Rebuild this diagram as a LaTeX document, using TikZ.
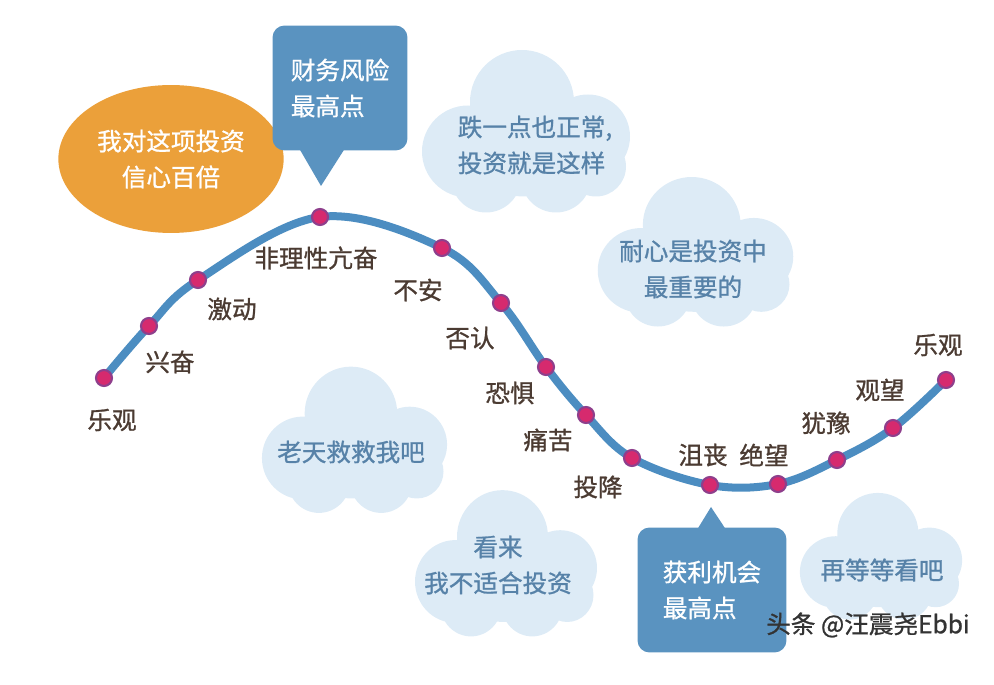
\documentclass[tikz,border=0pt]{standalone}
\usepackage{fontspec}
\setmainfont{Noto Sans CJK SC}[FakeBold=1]
\usetikzlibrary{shapes.geometric,calc}
\definecolor{curveblue}{HTML}{4C8DC1}
\definecolor{boxblue}{HTML}{5A93C0}
\definecolor{moodorange}{HTML}{EBA03A}
\definecolor{cloudfill}{HTML}{DDEBF6}
\definecolor{cloudtext}{HTML}{5782A8}
\definecolor{moodbrown}{HTML}{4B3B32}
\definecolor{dotpink}{HTML}{D62A6E}
\definecolor{dotrim}{HTML}{8E3F8C}
\begin{document}
\begin{tikzpicture}[x=0.02cm, y=-0.02cm, every node/.style={font=\fontsize{14}{20.5}\selectfont},
  moodtext/.style={text=moodbrown,inner sep=1pt},
  mooddot/.style={circle,fill=dotpink,draw=dotrim,line width=1.2pt,minimum size=0.32cm,inner sep=0pt},
  cloudnote/.style={text=cloudtext,align=center,inner sep=1pt},
  riskbox/.style={fill=boxblue,rounded corners=0.24cm,text=white,align=left,minimum height=2.5cm},
  cloudpuffs/.pic={\fill[cloudfill] (-4,-29.5) circle[radius=52] (62,5) circle[radius=42]
    (-58,20) circle[radius=46] (-40,46) circle[radius=35] (30,46) circle[radius=35]
    (70,35) circle[radius=30] (0,15) ellipse[x radius=75,y radius=50];}]
\useasboundingbox (0,0) rectangle (994,685);
% clouds
\pic at (526,131.5) {cloudpuffs};
\pic[xscale=0.94,yscale=0.92] at (695.5,252) {cloudpuffs};
\pic[xscale=0.89,yscale=0.9] at (354.5,440) {cloudpuffs};
\pic[xscale=0.875,yscale=0.9] at (506,563.5) {cloudpuffs};
\pic[xscale=0.78,yscale=0.78] at (881,556.5) {cloudpuffs};
\node[cloudnote,align=left] (c1) at (535,145) {跌一点也正常,\\投资就是这样};
\node[cloudnote] (c2) at (693,269) {耐心是投资中\\最重要的};
\node[cloudnote] (c3) at (351,452) {老天救救我吧};
\node[cloudnote] (c4) at (498,565) {看来\\我不适合投资};
\node[cloudnote] (c5) at (882,570) {再等等看吧};
% the curve
\coordinate (p1) at (104,378); \coordinate (p2) at (149,326); \coordinate (p3) at (198,280);
\coordinate (p4) at (320,217); \coordinate (p5) at (442,248); \coordinate (p6) at (501,303);
\coordinate (p7) at (546,367); \coordinate (p8) at (586,415); \coordinate (p9) at (632,458);
\coordinate (p10) at (710,485); \coordinate (p11) at (778,484); \coordinate (p12) at (837,460);
\coordinate (p13) at (893,428); \coordinate (p14) at (946,380);
\draw[curveblue,line width=0.16cm] plot[smooth,tension=0.6] coordinates {(p1) (p2) (p3) (p4) (p5) (p6) (p7) (p8) (p9) (p10) (p11) (p12) (p13) (p14)};
\foreach \i in {1,...,14} \node[mooddot] (d\i) at (p\i) {};
% moods
\node[moodtext] (m1) at (112,420) {乐观};
\node[moodtext] (m2) at (170,362) {兴奋};
\node[moodtext] (m3) at (232,309) {激动};
\node[moodtext] (m4) at (316,258) {非理性亢奋};
\node[moodtext] (m5) at (418,290) {不安};
\node[moodtext] (m6) at (470,338) {否认};
\node[moodtext] (m7) at (510,393) {恐惧};
\node[moodtext] (m8) at (548,440) {痛苦};
\node[moodtext] (m9) at (598,487) {投降};
\node[moodtext] (m10) at (703,455) {沮丧};
\node[moodtext] (m11) at (764,455) {绝望};
\node[moodtext] (m12) at (826,423) {犹豫};
\node[moodtext] (m13) at (880,390) {观望};
\node[moodtext] (m14) at (938,345) {乐观};
% orange bubble
\node[ellipse,fill=moodorange,text=white,align=center,minimum width=3.56cm,minimum height=2.96cm] (conf) at (171,159) {我对这项投资\\信心百倍};
% callouts
\node[riskbox,minimum width=2.7cm] (risk) at (340,88) {财务风险\\最高点};
\coordinate (tipA) at (321,186);
\fill[boxblue] ($(risk.south)+(-40,-1)$) -- (tipA) -- ($(risk.south)+(4,-1)$) -- cycle;
\node[riskbox,minimum width=2.98cm] (gain) at (712,590) {获利机会\\最高点};
\coordinate (tipB) at (711,507);
\fill[boxblue] ($(gain.north)+(-14,1)$) -- (tipB) -- ($(gain.north)+(13,1)$) -- cycle;
% watermark
\node[text=black!80,font=\fontsize{14}{16}\selectfont] (mark) at (868,625) {头条 @汪震尧Ebbi};
\end{tikzpicture}
\end{document}
